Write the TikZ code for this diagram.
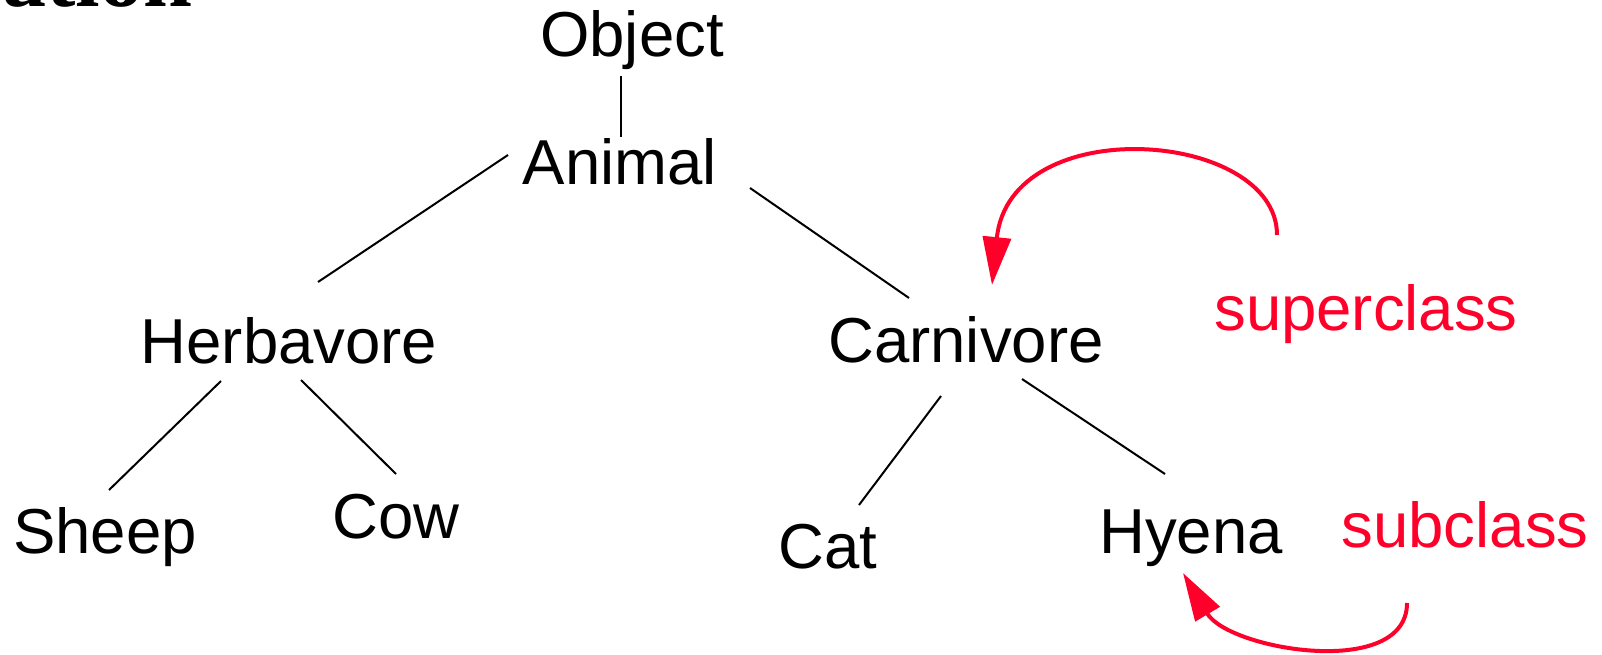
\documentclass[tikz,border=0pt]{standalone}
\usepackage{fontspec}
\setmainfont{Liberation Sans}
\newfontfamily\titlefont{Liberation Serif}
\usetikzlibrary{arrows.meta,calc}
\definecolor{relred}{RGB}{255,0,42}
\tikzset{
  cls/.style={anchor=base, inner sep=0pt, font=\fontsize{63.5}{76}\selectfont},
  relname/.style={cls, text=relred},
  link/.style={line width=2pt, black},
  relarrow/.style={line width=4pt, relred, -{Triangle[length=48pt,width=28pt]}},
}
\begin{document}
\begin{tikzpicture}[x=1pt,y=-1pt]
\useasboundingbox (0,0) rectangle (1602,655);
\clip (0,0) rectangle (1602,655);

% heading, running off the top edge
\node[anchor=base east, inner sep=0pt, font=\titlefont\bfseries\fontsize{88}{100}\selectfont] (title) at (193,7) {ation};

% class hierarchy
\node[cls] (object) at (632,57)  {Object};
\node[cls] (animal) at (620,185) {Animal};
\node[cls] (herb)   at (289,363) {Herbavore};
\node[cls] (carn)   at (966,362) {Carnivore};
\node[cls] (sheep)  at (105,553) {Sheep};
\node[cls] (cow)    at (396,538) {Cow};
\node[cls] (cat)    at (828,568) {Cat};
\node[cls] (hyena)  at (1191,553) {Hyena};

% relation labels
\node[relname] (super) at (1366,330) {superclass};
\node[relname] (sub)   at (1465,547) {subclass};

% tree edges
\draw[link] ($(object.base)+(-11,19)$) -- ($(animal.base)+(1,-48)$);
\draw[link] ($(animal.base)+(-112,-30)$) -- ($(herb.base)+(29,-81)$);
\draw[link] ($(animal.base)+(130,3)$) -- ($(carn.base)+(-57,-64)$);
\draw[link] ($(herb.base)+(-68,18)$) -- ($(sheep.base)+(4,-63)$);
\draw[link] ($(herb.base)+(12,17)$) -- ($(cow.base)+(0,-64)$);
\draw[link] ($(carn.base)+(-25,34)$) -- ($(cat.base)+(31,-63)$);
\draw[link] ($(carn.base)+(56,17)$) -- ($(hyena.base)+(-26,-79)$);

% superclass / subclass arrows
\draw[relarrow] ($(super.base)+(-89,-95)$) .. controls +(0,-105) and +(18,-175) .. ($(carn.base)+(26,-77)$);
\draw[relarrow] ($(sub.base)+(-58,56)$) .. controls +(0,77) and +(46,77) .. ($(hyena.base)+(-8,20)$);
\end{tikzpicture}
\end{document}
